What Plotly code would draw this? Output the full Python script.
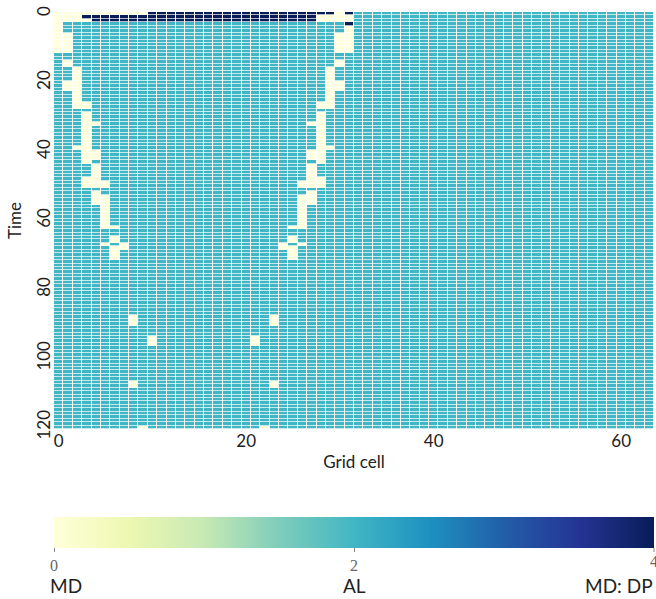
import plotly.graph_objects as go

# ---------------- data ----------------
n_time = 121
n_cells = 64
regime_background = 2          # AL

# first rows, cells 0..31 (0 = MD, 2 = AL, 4 = MD: DP)
top_rows = [
    "0000000000444444444444444444440" + "4",
    "000" + "4" * 25 + "0000",
    "0000" + "4" * 24 + "0000",
    "0" + "2" * 30 + "4",
]

# MD runs (cell, first time, last time) on the left half; mirrored at cell 31 - c
left_md_runs = [
    (0, 4, 11),
    (1, 6, 11), (1, 14, 15), (1, 20, 22),
    (2, 16, 27), (2, 39, 39),
    (3, 26, 27), (3, 29, 43), (3, 48, 50),
    (4, 32, 32), (4, 40, 42), (4, 44, 50), (4, 52, 55),
    (5, 49, 50), (5, 53, 62), (5, 67, 67),
    (6, 62, 62), (6, 65, 66), (6, 68, 71),
    (7, 67, 68),
    (8, 88, 90), (8, 107, 108),
    (9, 120, 120),
    (10, 94, 96),
]
mirror_axis = 31

x_ticks = [0, 20, 40, 60]
y_ticks = [0, 20, 40, 60, 80, 100, 120]
cbar_ticks = [0, 2, 4]
cbar_labels = ["MD", "AL", "MD: DP"]

ylgnbu = ["#ffffd9", "#edf8b1", "#c7e9b4", "#7fcdbb", "#41b6c4",
          "#1d91c0", "#225ea8", "#253494", "#081d58"]

# ---------------- build matrix ----------------
z = [[regime_background] * n_cells for _ in range(n_time)]
for c, t0, t1 in left_md_runs:
    for t in range(t0, t1 + 1):
        z[t][c] = 0
        z[t][mirror_axis - c] = 0
for t, row in enumerate(top_rows):
    for c, ch in enumerate(row):
        z[t][c] = int(ch)

colorscale = [[i / (len(ylgnbu) - 1), col] for i, col in enumerate(ylgnbu)]

sans = "Lato, 'Liberation Sans', sans-serif"
serif = "'Liberation Serif', 'DejaVu Serif', serif"

PLOT_TOP, PLOT_BOTTOM = 12, 429
PH = PLOT_BOTTOM - PLOT_TOP


def py(px):
    return (PLOT_BOTTOM - px) / PH


fig = go.Figure(go.Heatmap(
    z=z, x=list(range(n_cells)), y=list(range(n_time)),
    zmin=0, zmax=4, colorscale=colorscale,
    xgap=1, ygap=0.7, hoverinfo="skip",
    colorbar=dict(
        orientation="h", thickness=31, len=1, lenmode="fraction",
        x=0.5, xanchor="center", y=py(517), yanchor="top",
        xpad=0, ypad=0, outlinewidth=0,
        tickvals=cbar_ticks[:2], ticks="outside", ticklen=4, tickcolor="#888",
        tickfont=dict(family=serif, size=16, color="#666"),
    ),
))

annotations = []
# last colorbar tick label sits on the right edge and is cut by the page
annotations.append(dict(text=str(cbar_ticks[2]), x=1.0, xref="paper", xanchor="center",
                        y=py(551), yref="paper", yanchor="top", showarrow=False,
                        font=dict(family=serif, size=16, color="#666")))
for lab, anchor, xp in zip(cbar_labels, ["left", "center", "right"],
                           [(48 - 54) / 600, 0.5, (655 - 54) / 600]):
    annotations.append(dict(text=lab, x=xp, xref="paper", xanchor=anchor,
                            y=py(585.5), yref="paper", yanchor="middle",
                            showarrow=False, font=dict(family=sans, size=19, color="#222")))

fig.add_shape(type="line", xref="paper", yref="paper", x0=1, x1=1,
              y0=py(548), y1=py(552), line=dict(color="#888", width=1))

fig.update_layout(
    width=656, height=599,
    margin=dict(l=54, r=2, t=PLOT_TOP, b=599 - PLOT_BOTTOM),
    paper_bgcolor="white", plot_bgcolor="white",
    font=dict(family=sans, size=16, color="#222"),
    annotations=annotations,
    xaxis=dict(range=[-0.5, n_cells - 0.5], tickvals=x_ticks, ticks="",
               showgrid=False, zeroline=False, showline=False,
               title=dict(text="Grid cell", font=dict(size=17), standoff=6),
               tickfont=dict(size=17)),
    yaxis=dict(range=[n_time - 0.5, -0.5], tickvals=y_ticks, ticks="",
               tickangle=-90, showgrid=False, zeroline=False, showline=False,
               title=dict(text="Time", font=dict(size=17), standoff=6),
               tickfont=dict(size=17)),
)

fig.write_html("out.html")
